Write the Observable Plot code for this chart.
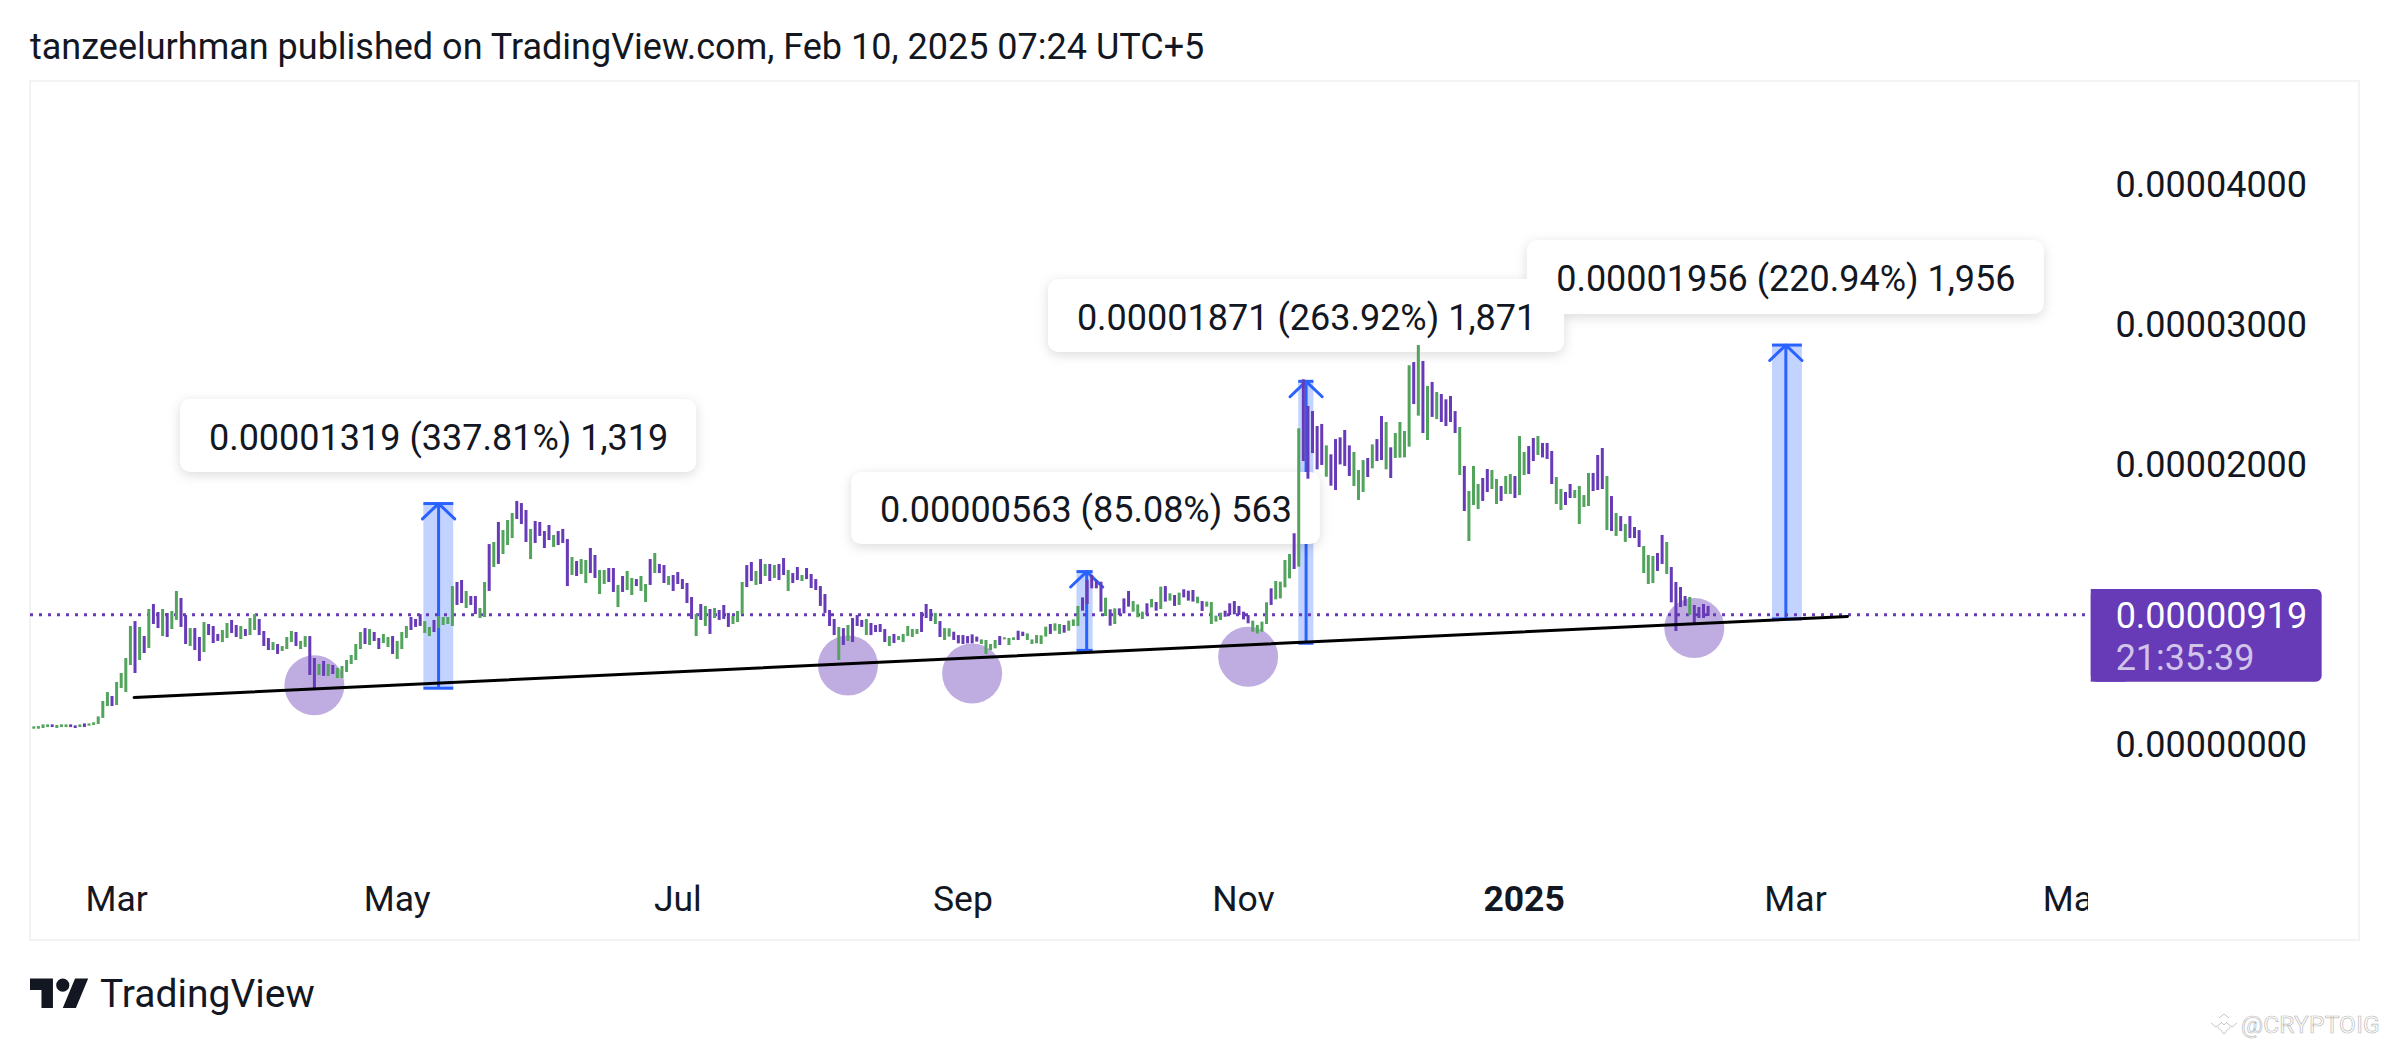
<!DOCTYPE html>
<html><head><meta charset="utf-8">
<script src="https://cdn.jsdelivr.net/npm/d3@7"></script>
<script src="https://cdn.jsdelivr.net/npm/@observablehq/plot@0.6"></script>
<style>
html,body{margin:0;padding:0;background:#fff;width:2388px;height:1044px;overflow:hidden;font-family:Roboto,sans-serif;color:#131722}
#title{position:absolute;left:30px;top:25px;font-size:36px;line-height:44px;white-space:nowrap}
#chart{position:absolute;left:0;top:80px}
#pane{position:absolute;left:29px;top:80px;width:2327px;height:857px;border:2px solid #f2f3f5;pointer-events:none}
#logo{position:absolute;left:30px;top:972px;width:59px;height:46px}
#brand{position:absolute;left:100px;top:970px;font-size:39px;line-height:48px;color:#131722}
#mark{position:absolute;left:2210px;top:1011px;height:26px;display:flex;align-items:center;gap:3px}
#mark span{font-size:24.5px;letter-spacing:.2px;color:#fff;-webkit-text-stroke:.7px #bdbdbd}
</style></head><body>
<div id="title">tanzeelurhman published on TradingView.com, Feb 10, 2025 07:24 UTC+5</div>
<div id="pane"></div>
<div id="chart"></div>
<svg id="logo" viewBox="0 0 36 28" fill="#131722"><path d="M14 22H7V11H0V4h14v18zM28 22h-8l7.5-18h8L28 22z"/><circle cx="20" cy="8" r="4"/></svg>
<div id="brand">TradingView</div>
<div id="mark"><svg width="28" height="24" viewBox="0 0 28 24" fill="none" stroke="#bdbdbd" stroke-width=".9"><path d="M1 11l5 4 5-4M9 6l5-4 5 4M17 11l5 4 5-4M8 15l6 7 6-7M11 10l3 3 3-3"/></svg><span>@CRYPTOIG</span></div>
<script>
// Prices are in units of 0.00000001. Daily bars, first bar on 12 Feb 2024.
const candleHigh = [119,121,133,133,133,129,133,133,133,126,133,140,140,148,190,300,364,336,436,500,
607,836,871,829,764,957,993,936,957,929,943,1086,1036,914,821,821,757,864,850,836,
779,807,857,879,843,836,814,893,921,886,800,750,721,707,693,757,800,793,729,764,
764,607,564,586,564,557,536,550,593,629,707,793,821,814,793,750,779,757,764,729,
793,836,900,886,921,871,829,879,907,900,900,1121,1150,1164,1086,1050,1050,964,1150,1421,
1436,1579,1521,1593,1643,1729,1714,1664,1529,1586,1579,1514,1557,1486,1514,1529,1457,1329,1300,1314,
1307,1393,1343,1236,1236,1250,1250,1129,1193,1229,1179,1171,1193,1136,1314,1357,1279,1271,1193,1200,
1221,1171,1143,1043,921,993,979,957,964,950,986,929,907,943,1150,1271,1293,1229,1314,1279,
1279,1271,1279,1321,1236,1214,1257,1200,1250,1207,1171,1121,1064,950,886,829,821,843,893,914,
879,886,857,843,850,814,764,779,764,779,836,814,814,936,993,957,929,871,821,819,
795,771,771,764,776,760,740,736,707,736,764,755,750,755,802,795,783,740,771,769,
831,850,855,850,843,874,883,979,1040,1164,1200,1164,1152,1038,955,962,962,1033,1086,1014,
990,938,998,1029,1007,1117,1121,1069,1057,1074,1098,1088,1093,1045,1014,1010,1007,910,931,945,
998,1014,979,938,914,874,843,867,1005,1105,1157,1152,1307,1350,1498,2248,2598,2407,2371,2264,
2279,2126,2062,2171,2183,2236,2126,2079,1950,2021,2036,2133,2171,2336,2293,2112,2214,2293,2229,2698,
2721,2843,2729,2550,2579,2507,2493,2455,2479,2371,2257,1979,1800,1979,1850,1893,1957,1950,1886,1836,
1907,1921,1907,2193,2079,2121,2179,2193,2143,2143,2086,1900,1814,1793,1850,1807,1836,1771,1929,1929,
2057,2107,1907,1764,1643,1621,1564,1621,1543,1521,1407,1343,1336,1357,1486,1436,1257,1150,1114,1050,
1043,986,971,993,979];
const candleLow = [102,102,107,114,114,107,114,114,114,107,114,114,124,129,136,179,264,264,271,393,
364,557,500,593,643,679,850,821,764,757,814,879,829,707,693,664,586,650,771,714,
729,721,750,786,757,743,764,771,807,771,693,664,664,636,657,671,721,693,671,686,
486,393,486,479,479,493,464,464,507,564,593,671,707,700,729,671,714,686,636,600,
671,750,807,829,836,786,764,793,821,843,850,836,986,1000,964,986,921,893,900,1086,
1257,1279,1350,1414,1464,1600,1564,1436,1314,1429,1479,1393,1450,1400,1414,1429,1121,1200,1193,1207,
1143,1214,1179,1064,1136,1150,1079,971,1079,1093,1057,1121,1086,1007,1129,1214,1214,1143,1129,1086,
1136,1100,1000,886,764,879,836,779,893,879,886,829,850,864,921,1114,1157,1129,1136,1193,
1157,1179,1164,1200,1086,1143,1164,1157,1171,1107,1093,979,929,836,771,593,700,729,721,836,
829,771,771,793,793,721,693,714,736,721,764,757,779,793,893,871,850,757,736,760,
736,712,707,712,712,724,707,636,664,676,700,740,700,736,736,764,736,707,712,707,
760,779,802,779,788,802,836,836,945,993,1105,1105,938,907,838,850,914,926,974,938,
898,886,914,969,945,957,1010,1017,979,986,1040,1017,1010,998,943,974,850,867,879,902,
914,919,914,883,855,795,783,795,850,986,1026,1033,1112,1176,1243,1260,2014,1888,2071,1955,
1986,1902,1838,1807,1990,1979,1907,1836,1736,1793,1900,1962,2014,2021,1955,1893,2036,2038,2040,2117,
2421,2338,2214,2164,2329,2314,2293,2264,2293,2214,1914,1657,1443,1700,1671,1729,1793,1814,1707,1729,
1779,1779,1750,1771,1914,1921,2014,2057,2040,2029,1850,1707,1664,1700,1750,1750,1564,1686,1693,1800,
1807,1814,1521,1514,1479,1514,1436,1464,1464,1400,1214,1136,1143,1229,1279,1207,1005,800,971,979,
914,850,893,893,907];
const candleDirection = "ggggpgggppgpgggggpggggpgpgppgpggppgppgpppggppgpggpppgpgggpggppgpgpggggggpgppggpgggpppggpggggppgppgg"+
"pgpgggpppgppppgpppgpggppggppgpggpggpgppgpppppgpgpgpppgggppgpgpgppgppgpppppppgpgpppgppppgpgggggpppgp"+
"ggppppppggggpgggppgggggpggpgggpppppgpgpppgggpgpgpgpgpppgpggggppppppggggpggggpgpppppgpppppgggpgppgpgg"+
"ggpgpgpgppppgpgggppggpggpggppgpppggppggggpppgpgpgpppgggppgppppgpp";
const currentPrice = 919;

const priceTicks = [0, 2000, 3000, 4000];
const monthTicks = ["2024-03-01","2024-05-01","2024-07-01","2024-09-01","2024-11-01","2025-03-01","2025-05-01"];
const yearTicks = ["2025-01-01"];

// annotations, x in days after the first bar
const touchDay = [61, 177, 204, 264, 361];
const touchPrice = [416, 557, 500, 620, 825];
const trendDay = [21.8, 394.3];
const trendPrice = [329, 907];

const measureFrom = [84.8, 226.8, 275, 378];
const measureTo = [91.3, 230.3, 278.3, 384.5];
const measureMid = [88, 228.9, 276.6, 380.9];
const measureBase = [395, 665, 716, 890];
const measureGain = [1319, 563, 1871, 1956];
const measureText = ["0.00001319 (337.81%) 1,319","0.00000563 (85.08%) 563","0.00001871 (263.92%) 1,871","0.00001956 (220.94%) 1,956"];
const boxFrom = [31.9, 177.8, 220.6, 324.7];
const boxTo = [144.1, 279.7, 332.8, 437.1];
const boxTop = [2457, 1936, 3314, 3593];
const boxBottom = [1936, 1421, 2793, 3064];

const green = "#52a45c", purple = "#673ab7", blue = "#2962ff", ink = "#131722";
const start = Date.UTC(2024, 1, 12);
const day = d => new Date(start + d * 864e5);

const candles = candleHigh.map((h, i) => ({date: day(i), hi: h, lo: candleLow[i], color: candleDirection[i] === "g" ? green : purple}));
const touches = touchDay.map((d, i) => ({date: day(d), price: touchPrice[i]}));
const trend = trendDay.map((d, i) => ({date: day(d), price: trendPrice[i]}));
const measures = measureFrom.map((f, i) => ({
  x1: day(f), x2: day(measureTo[i]), mid: measureMid[i],
  base: measureBase[i], top: measureBase[i] + measureGain[i],
  text: measureText[i], b1: day(boxFrom[i]), b2: day(boxTo[i]), bt: boxTop[i], bb: boxBottom[i],
  bmid: day((boxFrom[i] + boxTo[i]) / 2), by: (boxTop[i] + boxBottom[i]) / 2
}));
const heads = measures.flatMap(m => [0,1,2].map(k => ({id: m.mid, date: day(m.mid + (k - 1) * 3.5), price: m.top - (k === 1 ? 0 : 110)})));
const fmt = v => (v * 1e-8).toFixed(8);

const chart = Plot.plot({
  width: 2388, height: 860,
  marginLeft: 30, marginRight: 300, marginTop: 0, marginBottom: 0,
  x: {type: "utc", domain: [day(-0.72), day(446.7)]},
  y: {domain: [-1407.1, 4735.7]},
  style: {fontFamily: "Roboto, sans-serif", background: "transparent", color: ink},
  marks: [
    Plot.dot(touches, {x: "date", y: "price", r: 30, fill: purple, fillOpacity: 0.42, stroke: "none"}),
    Plot.rect(measures, {x1: "x1", x2: "x2", y1: "base", y2: "top", fill: blue, fillOpacity: 0.28}),
    Plot.ruleX(measures, {x: d => day(d.mid), y1: "base", y2: "top", stroke: blue, strokeWidth: 3}),
    Plot.ruleY(measures, {y: "top", x1: "x1", x2: "x2", stroke: blue, strokeWidth: 3}),
    Plot.ruleY(measures, {y: "base", x1: "x1", x2: "x2", stroke: blue, strokeWidth: 3}),
    Plot.line(heads, {x: "date", y: "price", z: "id", stroke: blue, strokeWidth: 3, curve: "linear"}),
    Plot.rect(measures, {x1: "b1", x2: "b2", y1: "bb", y2: "bt", fill: "#fff", rx: 10, imageFilter: "drop-shadow(0 3px 6px rgba(0,0,0,.14))"}),
    Plot.text(measures, {x: "bmid", y: "by", text: "text", fontSize: 36, dy: 2, fill: ink}),
    Plot.ruleY([currentPrice], {stroke: purple, strokeWidth: 3, strokeDasharray: "3 6"}),
    Plot.ruleX(candles, {x: "date", y1: "lo", y2: "hi", stroke: "color", strokeWidth: 3}),
    Plot.line(trend, {x: "date", y: "price", stroke: "#000", strokeWidth: 3}),
    Plot.axisY({anchor: "right", ticks: priceTicks, tickFormat: fmt, tickSize: 0, tickPadding: 27, fontSize: 36, dy: 2, label: null, fill: ink}),
    Plot.rect([0], {x1: day(447.3), x2: day(497.5), y1: 438, y2: 1100, fill: purple, rx: 6}),
    Plot.rect([0], {x1: day(447.3), x2: day(455), y1: 438, y2: 1100, fill: purple}),
    Plot.text([fmt(currentPrice)], {x: day(452.6), y: 914, text: d => d, textAnchor: "start", fontSize: 36, dy: 1, fill: "#fff"}),
    Plot.text(["21:35:39"], {x: day(452.6), y: 616, text: d => d, textAnchor: "start", fontSize: 36, dy: 1, fill: "#d1c4e9"}),
    Plot.axisX({anchor: "bottom", ticks: monthTicks.map(d => new Date(d)), tickFormat: d3.utcFormat("%b"), tickSize: 0, tickPadding: -55, fontSize: 35.5, label: null, clip: true, fill: ink}),
    Plot.axisX({anchor: "bottom", ticks: yearTicks.map(d => new Date(d)), tickFormat: d3.utcFormat("%Y"), tickSize: 0, tickPadding: -55, fontSize: 35.5, fontWeight: 700, label: null, clip: true, fill: ink})
  ]
});
document.getElementById("chart").appendChild(chart);
</script>
</body></html>
